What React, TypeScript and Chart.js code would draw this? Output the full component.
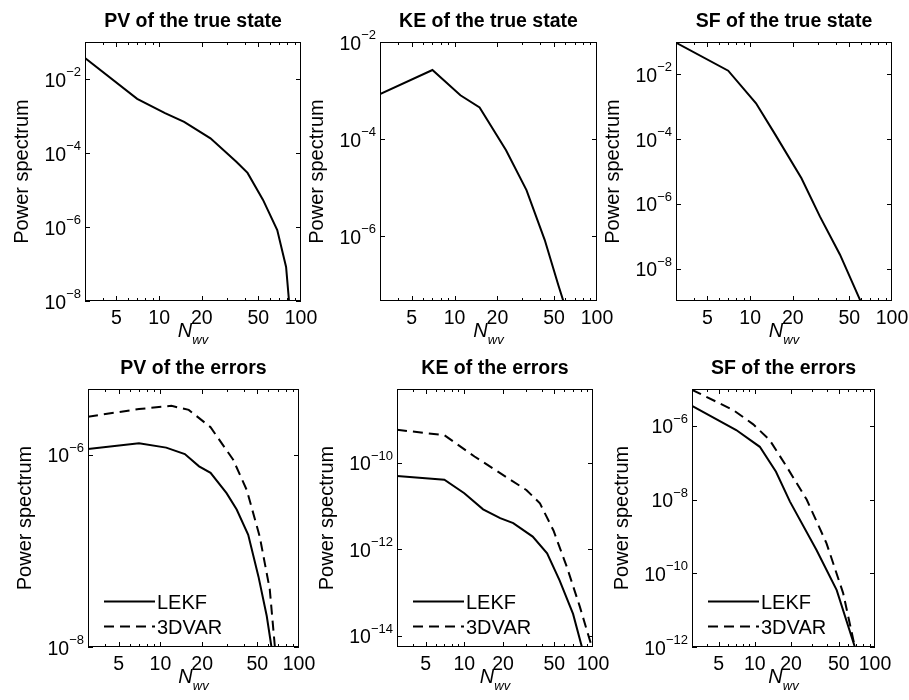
import { useEffect, useRef } from 'react';
import { Chart, registerables } from 'chart.js';

Chart.register(...registerables);

// ---------- data ----------
const xMin = 3;
const xMax = 100;
const xTickValues = [5, 10, 20, 50, 100];
const xMinorTickValues = [4, 6, 7, 8, 9, 30, 40, 60, 70, 80, 90];

// PV of the true state
const pvTrueN = [3, 7, 11, 15, 23, 35, 42, 54, 68, 78.5, 83];
const pvTrueValues = [3.7e-2, 2.9e-3, 1.2e-3, 6.9e-4, 2.5e-4, 5.8e-5, 2.9e-5, 5.4e-6, 8.3e-7, 8.3e-8, 7e-9];

// KE of the true state
const keTrueN = [3, 7, 11, 15, 23, 32, 43, 53.5, 62];
const keTrueValues = [8.4e-4, 2.65e-3, 8.0e-4, 4.5e-4, 5.9e-5, 8.9e-6, 8.3e-7, 9.8e-8, 2.5e-8];

// SF of the true state
const sfTrueN = [3, 7, 11, 15, 23, 31, 43, 60, 62];
const sfTrueValues = [9.5e-2, 1.3e-2, 1.28e-3, 1.4e-4, 6.2e-6, 4.1e-7, 2.7e-8, 1e-9, 6e-10];

// PV of the errors
const pvErrLekfN = [3, 7, 11, 15, 19, 23, 30, 35.5, 43, 51, 58.5, 64];
const pvErrLekfValues = [1.15e-6, 1.32e-6, 1.19e-6, 1.02e-6, 7.6e-7, 6.5e-7, 4e-7, 2.7e-7, 1.47e-7, 5.4e-8, 2.1e-8, 9e-9];
const pvErr3dvarN = [3, 7, 12, 16, 23, 33.5, 42, 52, 61.5, 67, 69];
const pvErr3dvarValues = [2.5e-6, 3.0e-6, 3.24e-6, 2.94e-6, 1.94e-6, 8.9e-7, 4.3e-7, 1.42e-7, 4e-8, 1e-8, 7e-9];

// KE of the errors
const keErrLekfN = [3, 7, 10, 14, 19, 24, 34, 44, 55, 70, 82, 86];
const keErrLekfValues = [4.9e-11, 4e-11, 1.96e-11, 8.3e-12, 5.2e-12, 4e-12, 1.95e-12, 8e-13, 1.9e-13, 3.2e-14, 5.5e-15, 4e-15];
const keErr3dvarN = [3, 7, 12, 19, 30.5, 38.7, 49.3, 62.6, 79, 98, 100];
const keErr3dvarValues = [5.7e-10, 4.3e-10, 1.38e-10, 5.7e-11, 2.3e-11, 1.14e-11, 2.7e-12, 3.9e-13, 4.7e-14, 5.5e-15, 4.5e-15];

// SF of the errors
const sfErrLekfN = [3, 7, 11, 15, 19.6, 32.6, 48, 68, 70];
const sfErrLekfValues = [3.5e-6, 7.7e-7, 2.7e-7, 5.7e-8, 8.8e-9, 4.3e-10, 3.5e-11, 1e-12, 7e-13];
const sfErr3dvarN = [3, 6.6, 9.7, 13.3, 18.4, 27, 39.5, 54.3, 68, 70];
const sfErr3dvarValues = [9.5e-6, 2.7e-6, 1.1e-6, 4.1e-7, 7.8e-8, 1e-8, 6.5e-10, 2.9e-11, 1e-12, 7e-13];

const titles = [
  'PV of the true state',
  'KE of the true state',
  'SF of the true state',
  'PV of the errors',
  'KE of the errors',
  'SF of the errors',
];
const yTickExponents = [
  [-8, -6, -4, -2],
  [-6, -4, -2],
  [-8, -6, -4, -2],
  [-8, -6],
  [-14, -12, -10],
  [-12, -10, -8, -6],
];
const yLimits = [
  [1e-8, 1e-1],
  [4.6e-8, 1e-2],
  [1e-9, 1e-1],
  [1e-8, 4.85e-6],
  [5.5e-15, 5e-9],
  [1e-12, 1e-5],
];
const seriesLabels = ['LEKF', '3DVAR'];
const yAxisLabel = 'Power spectrum';
const xAxisLabelMain = 'N';
const xAxisLabelSub = 'wv';

// ---------- layout ----------
const PAGE_W = 909;
const PAGE_H = 700;
const X_AXIS_H = 40;
const FONT = "'Liberation Sans', Arial, Helvetica, sans-serif";

const boxes = [
  { left: 85, right: 301, top: 42, bottom: 301 },
  { left: 380, right: 597, top: 42, bottom: 301 },
  { left: 676, right: 892, top: 42, bottom: 301 },
  { left: 88, right: 299, top: 389, bottom: 647 },
  { left: 397, right: 593, top: 389, bottom: 647 },
  { left: 692, right: 875, top: 389, bottom: 647 },
];

type Series = { label: string; n: number[]; v: number[]; dashed: boolean };
type Panel = {
  title: string;
  box: { left: number; right: number; top: number; bottom: number };
  yMin: number;
  yMax: number;
  yExps: number[];
  series: Series[];
  legend: boolean;
};

const panels: Panel[] = [
  { series: [{ label: 'true', n: pvTrueN, v: pvTrueValues, dashed: false }], legend: false },
  { series: [{ label: 'true', n: keTrueN, v: keTrueValues, dashed: false }], legend: false },
  { series: [{ label: 'true', n: sfTrueN, v: sfTrueValues, dashed: false }], legend: false },
  {
    series: [
      { label: seriesLabels[0], n: pvErrLekfN, v: pvErrLekfValues, dashed: false },
      { label: seriesLabels[1], n: pvErr3dvarN, v: pvErr3dvarValues, dashed: true },
    ],
    legend: true,
  },
  {
    series: [
      { label: seriesLabels[0], n: keErrLekfN, v: keErrLekfValues, dashed: false },
      { label: seriesLabels[1], n: keErr3dvarN, v: keErr3dvarValues, dashed: true },
    ],
    legend: true,
  },
  {
    series: [
      { label: seriesLabels[0], n: sfErrLekfN, v: sfErrLekfValues, dashed: false },
      { label: seriesLabels[1], n: sfErr3dvarN, v: sfErr3dvarValues, dashed: true },
    ],
    legend: true,
  },
].map((p, i) => ({
  ...p,
  title: titles[i],
  box: boxes[i],
  yMin: yLimits[i][0],
  yMax: yLimits[i][1],
  yExps: yTickExponents[i],
}));

const DASH = [10, 6];

const matlabAxesPlugin = {
  id: 'matlabAxes',
  afterDraw(chart: any, _args: any, opts: any) {
    const panel: Panel = opts.panel;
    const { ctx, chartArea: ca, scales } = chart;
    const xs = scales.x;
    const ys = scales.y;
    ctx.save();
    ctx.strokeStyle = '#000';
    ctx.fillStyle = '#000';
    ctx.lineWidth = 1;
    ctx.setLineDash([]);

    // box
    ctx.strokeRect(ca.left + 0.5, ca.top + 0.5, ca.right - ca.left - 1, ca.bottom - ca.top - 1);

    // x ticks (inward, top and bottom)
    const drawXTick = (v: number, len: number) => {
      const px = Math.round(xs.getPixelForValue(v)) + 0.5;
      ctx.beginPath();
      ctx.moveTo(px, ca.bottom);
      ctx.lineTo(px, ca.bottom - len);
      ctx.moveTo(px, ca.top);
      ctx.lineTo(px, ca.top + len);
      ctx.stroke();
    };
    xTickValues.forEach((v) => { if (v < xMax) drawXTick(v, 5); });
    xMinorTickValues.forEach((v) => drawXTick(v, 3));

    // y ticks + labels
    let maxLabelW = 0;
    panel.yExps.forEach((e) => {
      const py = ys.getPixelForValue(Math.pow(10, e));
      const pyr = Math.round(py) + 0.5;
      ctx.beginPath();
      ctx.moveTo(ca.left, pyr);
      ctx.lineTo(ca.left + 5, pyr);
      ctx.moveTo(ca.right, pyr);
      ctx.lineTo(ca.right - 5, pyr);
      ctx.stroke();

      const expStr = '\u2212' + Math.abs(e);
      ctx.font = `13px ${FONT}`;
      const wExp = ctx.measureText(expStr).width;
      ctx.font = `19.5px ${FONT}`;
      const wBase = ctx.measureText('10').width;
      const right = ca.left - 4;
      ctx.textAlign = 'left';
      ctx.textBaseline = 'alphabetic';
      ctx.fillText('10', right - wExp - wBase, py + 7.5);
      ctx.font = `13px ${FONT}`;
      ctx.fillText(expStr, right - wExp, py - 3);
      maxLabelW = Math.max(maxLabelW, wExp + wBase);
    });

    // title
    ctx.font = `bold 19.5px ${FONT}`;
    ctx.textAlign = 'center';
    ctx.textBaseline = 'alphabetic';
    ctx.fillText(panel.title, (ca.left + ca.right) / 2, ca.top - 15);

    // y label
    ctx.font = `20px ${FONT}`;
    ctx.save();
    ctx.translate(ca.left - 20 - maxLabelW, (ca.top + ca.bottom) / 2);
    ctx.rotate(-Math.PI / 2);
    ctx.textAlign = 'center';
    ctx.fillText(yAxisLabel, 0, 0);
    ctx.restore();

    // x label: italic N with subscript wv
    ctx.font = `italic 20px ${FONT}`;
    const wN = ctx.measureText(xAxisLabelMain).width;
    ctx.font = `italic 13px ${FONT}`;
    const wSub = ctx.measureText(xAxisLabelSub).width;
    const x0 = (ca.left + ca.right) / 2 - (wN + wSub) / 2;
    ctx.textAlign = 'left';
    ctx.font = `italic 20px ${FONT}`;
    ctx.fillText(xAxisLabelMain, x0, ca.bottom + 36);
    ctx.font = `italic 13px ${FONT}`;
    ctx.fillText(xAxisLabelSub, x0 + wN, ca.bottom + 43);

    // legend
    if (panel.legend) {
      const rows = [ca.bottom - 46, ca.bottom - 21];
      chart.data.datasets.forEach((ds: any, i: number) => {
        const y = Math.round(rows[i]) + 0.5;
        ctx.lineWidth = 2;
        ctx.setLineDash(ds.borderDash || []);
        ctx.beginPath();
        ctx.moveTo(ca.left + 16, y);
        ctx.lineTo(ca.left + 67, y);
        ctx.stroke();
        ctx.setLineDash([]);
        ctx.font = `20px ${FONT}`;
        ctx.textAlign = 'left';
        ctx.fillText(ds.label, ca.left + 69, y + 7);
      });
    }
    ctx.restore();
  },
};

function PanelChart({ panel }: { panel: Panel }) {
  const ref = useRef<HTMLCanvasElement>(null);
  useEffect(() => {
    const canvas = ref.current;
    if (!canvas) return;
    const chart = new Chart(canvas, {
      type: 'line',
      data: {
        datasets: panel.series.map((s) => ({
          label: s.label,
          data: s.n.map((n, i) => ({ x: n, y: s.v[i] })),
          borderColor: '#000',
          backgroundColor: '#000',
          borderWidth: 2,
          borderDash: s.dashed ? DASH : [],
          pointRadius: 0,
          fill: false,
          tension: 0,
        })),
      },
      options: {
        animation: false,
        responsive: false,
        events: [],
        layout: {
          autoPadding: false,
          padding: {
            left: panel.box.left,
            right: PAGE_W - panel.box.right,
            top: panel.box.top,
            bottom: PAGE_H - panel.box.bottom - X_AXIS_H,
          },
        },
        plugins: {
          legend: { display: false },
          title: { display: false },
          tooltip: { enabled: false },
          matlabAxes: { panel },
        } as any,
        scales: {
          x: {
            type: 'logarithmic',
            min: xMin,
            max: xMax,
            position: 'bottom',
            grid: { display: false, drawTicks: false },
            border: { display: false },
            ticks: {
              font: { family: FONT, size: 19.5 },
              color: '#000',
              padding: 6,
              autoSkip: false,
              maxRotation: 0,
              minRotation: 0,
              callback: (v: any) => String(v),
            },
            afterBuildTicks: (s: any) => {
              s.ticks = xTickValues.map((v) => ({ value: v }));
            },
            afterFit: (s: any) => {
              s.height = X_AXIS_H;
              s.paddingLeft = 0;
              s.paddingRight = 0;
            },
          },
          y: {
            type: 'logarithmic',
            min: panel.yMin,
            max: panel.yMax,
            display: false,
          },
        },
      } as any,
      plugins: [matlabAxesPlugin],
    });
    return () => chart.destroy();
  }, [panel]);
  return (
    <canvas
      ref={ref}
      width={PAGE_W}
      height={PAGE_H}
      style={{ position: 'absolute', left: 0, top: 0, width: PAGE_W, height: PAGE_H }}
    />
  );
}

export default function App() {
  return (
    <div
      style={{
        position: 'absolute',
        left: 0,
        top: 0,
        width: PAGE_W,
        height: PAGE_H,
        background: '#fff',
        overflow: 'hidden',
      }}
    >
      {panels.map((p, i) => (
        <PanelChart key={i} panel={p} />
      ))}
    </div>
  );
}
